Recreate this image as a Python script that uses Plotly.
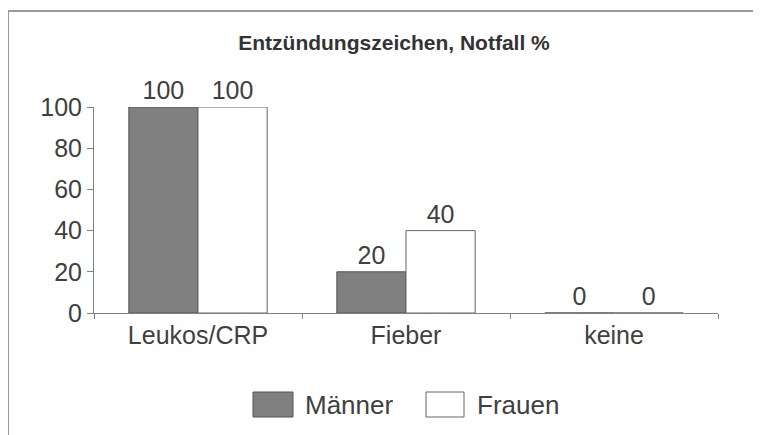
import plotly.graph_objects as go

categories = ["Leukos/CRP", "Fieber", "keine"]
maenner = [100, 20, 0]
frauen = [100, 40, 0]
y_ticks = [0, 20, 40, 60, 80, 100]
title_text = "<b>Entzündungszeichen, Notfall %</b>"

W, H = 761, 435
OFF = 8  # page body margin
# plot area in reference (page) pixels: x 94..718, y 107..313
L = 94 - OFF
R = W - (718 - OFF)
T = 107 - OFF
B = H - (313 - OFF)
pw, ph = W - L - R, H - T - B

def px_x(x):
    return (x - OFF - L) / pw

def px_y(y):
    return (H - B - (y - OFF)) / ph

font_fam = "Liberation Sans, Arial, sans-serif"
txt_col = "#404040"
fs = 25

fig = go.Figure()
fig.add_bar(x=categories, y=maenner, name="Männer",
            marker=dict(color="#808080", line=dict(color="#555555", width=1)),
            text=[str(v) for v in maenner], textposition="outside",
            textfont=dict(size=fs, color=txt_col, family=font_fam),
            cliponaxis=False, showlegend=False)
fig.add_bar(x=categories, y=frauen, name="Frauen",
            marker=dict(color="#ffffff", line=dict(color="#666666", width=1)),
            text=[str(v) for v in frauen], textposition="outside",
            textfont=dict(size=fs, color=txt_col, family=font_fam),
            cliponaxis=False, showlegend=False)

shapes = [
    dict(type="line", xref="paper", yref="paper", x0=px_x(8), x1=px_x(W + 20),
         y0=px_y(11), y1=px_y(11), line=dict(color="#999999", width=2)),
    dict(type="line", xref="paper", yref="paper", x0=px_x(8), x1=px_x(8),
         y0=px_y(11), y1=px_y(H + 20), line=dict(color="#999999", width=2)),
    dict(type="rect", xref="paper", yref="paper", x0=px_x(253), x1=px_x(293),
         y0=px_y(417), y1=px_y(392), fillcolor="#808080",
         line=dict(color="#555555", width=1)),
    dict(type="rect", xref="paper", yref="paper", x0=px_x(426), x1=px_x(464),
         y0=px_y(417), y1=px_y(392), fillcolor="#ffffff",
         line=dict(color="#666666", width=1)),
]
annotations = [
    dict(text="Männer", xref="paper", yref="paper", x=px_x(303), y=px_y(405),
         xanchor="left", yanchor="middle", showarrow=False,
         font=dict(size=26, color=txt_col, family=font_fam)),
    dict(text="Frauen", xref="paper", yref="paper", x=px_x(475), y=px_y(405),
         xanchor="left", yanchor="middle", showarrow=False,
         font=dict(size=26, color=txt_col, family=font_fam)),
]

fig.update_layout(
    width=W, height=H,
    margin=dict(l=L, r=R, t=T, b=B),
    paper_bgcolor="white", plot_bgcolor="white",
    barmode="group", bargap=0.335, bargroupgap=0,
    font=dict(family=font_fam, color=txt_col),
    title=dict(text=title_text, x=(394 - OFF) / W, xanchor="center",
               y=1 - (43 - OFF) / H, yanchor="middle", yref="container",
               font=dict(size=21, color="#333333", family=font_fam)),
    shapes=shapes, annotations=annotations,
    showlegend=False,
)
fig.update_xaxes(showline=True, linecolor="#808080", linewidth=1,
                 ticks="outside", tickson="boundaries", ticklen=5,
                 tickcolor="#808080", showgrid=False,
                 tickfont=dict(size=fs, color=txt_col, family=font_fam))
fig.update_yaxes(range=[0, 100], tickvals=y_ticks, showline=True,
                 linecolor="#808080", linewidth=1, ticks="outside",
                 ticklen=6, tickcolor="#808080", showgrid=False,
                 zeroline=False,
                 tickfont=dict(size=fs, color=txt_col, family=font_fam))

fig.write_html("out.html")
